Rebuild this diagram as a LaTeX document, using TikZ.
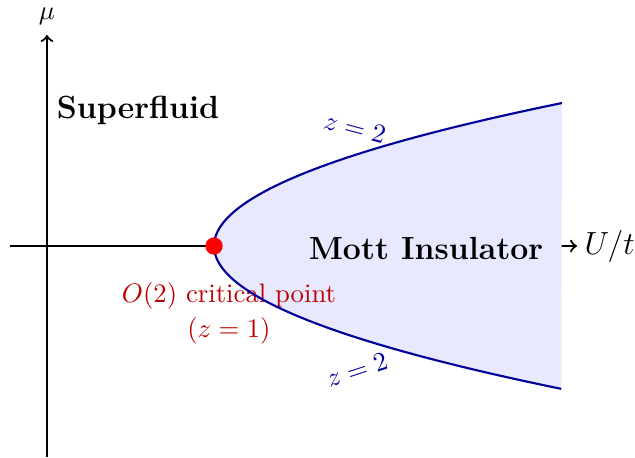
\documentclass[tikz,border=0pt]{standalone}
\usepackage{amsmath}
\begin{document}
\begin{tikzpicture}[x=0.3745pt,y=-0.3745pt,
  axis/.style={thick,->},
  lobe/.style={draw=blue!60!black,thick},
  lobefill/.style={fill=blue!9},
  critlabel/.style={text=red!75!black,align=center},
  zlabel/.style={text=blue!60!black},
  phase/.style={font=\large\bfseries}]
\useasboundingbox (0,0) rectangle (635,457);
% axes
\coordinate (ybot) at (47,457);
\coordinate (ytop) at (47,35);
\coordinate (xleft) at (10,246);
\coordinate (xright) at (577,246);
\draw[axis] (ybot) -- (ytop) node[above] (mu) {$\mu$};
\draw[axis] (xleft) -- (xright) node[right,font=\large,inner sep=2.5pt] (ut) {$U/t$};
% Mott lobe fill
\fill[lobefill] plot[domain=-1:1,samples=101] ({214+348*(\x)^2},{246+143*\x}) -- cycle;
% labels
\node[phase] (sf) at (138,110) {Superfluid};
\node[phase] (mott) at (426,248) {Mott Insulator};
\node[critlabel] (crit) at (229,313) {$O(2)$ critical point\\[1pt]$(z=1)$};
\node[zlabel,rotate=-15] (zup) at (355,128) {$z=2$};
\node[zlabel,rotate=18] (zdn) at (357,370) {$z=2$};
% Mott lobe boundary
\draw[lobe] plot[domain=-1:1,samples=101] ({214+348*(\x)^2},{246+143*\x});
% critical point
\node[circle,fill=red,inner sep=0pt,minimum size=6.5pt] (cp) at (214,246) {};
\end{tikzpicture}
\end{document}
